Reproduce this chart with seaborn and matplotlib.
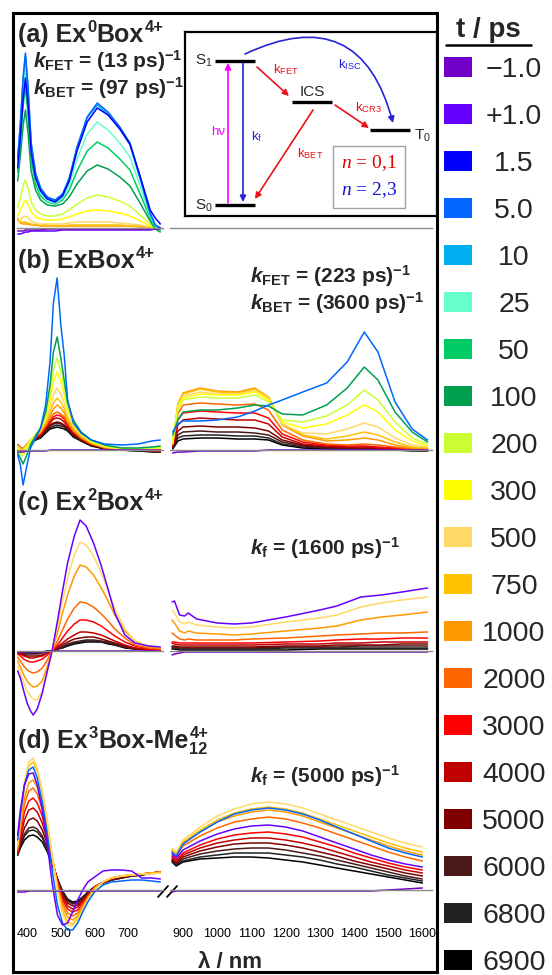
import numpy as np
import pandas as pd
import matplotlib
matplotlib.use('Agg')
import matplotlib.pyplot as plt
from matplotlib.patches import Rectangle
from matplotlib.lines import Line2D
import seaborn as sns

sns.set_style('white')
plt.rcParams['font.family'] = ['Liberation Sans', 'DejaVu Sans']
plt.rcParams.update({
    'mathtext.fontset': 'custom',
    'mathtext.rm': 'Liberation Sans',
    'mathtext.bf': 'Liberation Sans:bold',
    'mathtext.it': 'Liberation Serif:italic',
    'mathtext.sf': 'Liberation Sans',
    'axes.unicode_minus': True,
})
try:
    plt.rcParams['mathtext.bfit'] = 'Liberation Sans:italic:bold'
except KeyError:
    pass

# ---------------- legend / time delays ----------------
T_KEYS = ['-1.0', '+1.0', '1.5', '5.0', '10', '25', '50', '100', '200', '300',
          '500', '750', '1000', '2000', '3000', '4000', '5000', '6000', '6800', '6900']
T_LABELS = ['\u22121.0', '+1.0', '1.5', '5.0', '10', '25', '50', '100', '200', '300',
            '500', '750', '1000', '2000', '3000', '4000', '5000', '6000', '6800', '6900']
T_COLORS = ['#7000C8', '#6600FF', '#0000FF', '#0066FF', '#00B0F0', '#66FFCC', '#00CC66',
            '#00A050', '#CCFF33', '#FFFF00', '#FFD966', '#FFC000', '#FF9900', '#FF6600',
            '#FF0000', '#C00000', '#800000', '#4A1A1A', '#222222', '#000000']
PAL = dict(zip(T_KEYS, T_COLORS))

# ---------------- axis ticks ----------------
L_TICKS = [400, 450, 500, 550, 600, 650, 700, 750, 800]
L_TICKLABELS = ['400', '', '500', '', '600', '', '700', '', '']
R_TICKS = [900, 950, 1000, 1050, 1100, 1150, 1200, 1250, 1300, 1350, 1400, 1450, 1500, 1550, 1600]
R_TICKLABELS = ['900', '', '1000', '', '1100', '', '1200', '', '1300', '', '1400', '', '1500', '', '1600']

# ---------------- panel (a) Ex0Box4+ ----------------
A_L_WL = [372, 380, 388, 395, 403, 412, 425, 440, 460, 483, 505, 525, 548, 578, 608, 640, 675, 705, 735, 765, 780, 795]
A_L = {
    '-1.0': [-3, -3, -3, -2, -2, -2, -2, -2, -1, -1, -1, -1, -1, -1, -1, -1, -1, -1, -1, -1, -1, -1],
    '+1.0': [-6, -6, -5, -4, -4, -3, -3, -3, -3, -3, -2, -2, -2, -2, -2, -2, -2, -2, -2, -2, -1, 0],
    '1.5': [60, 90, 128, 150, 122, 75, 50, 37, 29, 26, 32, 47, 77, 106, 120, 113, 99, 84, 52, 18, 10, 4],
    '5.0': [70, 105, 150, 175, 140, 85, 55, 40, 31, 28, 34, 50, 81, 111, 125, 116, 101, 85, 51, 15, 3, 0],
    '10': [68, 103, 148, 172, 138, 84, 54, 39, 30, 27, 33, 49, 80, 110, 123, 114, 99, 83, 49, 14, 3, 0],
    '25': [62, 95, 136, 158, 125, 76, 49, 35, 27, 25, 30, 43, 69, 94, 106, 98, 85, 71, 42, 12, 2, -2],
    '50': [56, 85, 122, 141, 112, 68, 44, 32, 26, 24, 28, 38, 57, 77, 86, 80, 69, 58, 34, 10, 0, -3],
    '100': [47, 72, 102, 118, 94, 57, 38, 28, 23, 22, 24, 31, 44, 57, 63, 59, 51, 42, 25, 7, -1, -4],
    '200': [20, 30, 42, 48, 40, 26, 18, 14, 12, 12, 14, 18, 24, 30, 33, 31, 27, 22, 13, 4, 0, -2],
    '300': [12, 18, 24, 28, 23, 16, 11, 9, 8, 8, 9, 11, 14, 17, 18, 17, 15, 12, 7, 2, 0, -1],
    '500': [6, 8, 11, 12, 10, 7, 5, 4, 4, 4, 4, 5, 6, 6, 6, 6, 5, 4, 3, 1, 0, 0],
    '750': [10, 6, 6, 6, 5, 4, 3, 3, 3, 2, 2, 3, 3, 3, 3, 3, 3, 2, 2, 1, 0, 0],
    '1000': [8, 5, 4, 4, 4, 3, 3, 2, 2, 2, 2, 2, 2, 2, 2, 2, 2, 2, 1, 1, 0, 0],
}

# ---------------- panel (b) ExBox4+ ----------------
B_L_WL = [372, 380, 388, 398, 410, 425, 440, 455, 468, 478, 489, 500, 510, 520, 537, 560, 590, 630, 680, 730, 770, 795]
B_L = {
    '-1.0': [-2, -2, -2, -1, -1, -1, -1, -1, 0, 0, 0, 0, 0, 0, 0, 0, 0, 0, 0, 0, 0, 0],
    '5.0': [-5, -15, -35, -18, 2, 12, 22, 45, 88, 147, 172, 125, 95, 50, 27, 17, 10, 6, 5, 6, 9, 10],
    '100': [-3, -8, -14, -6, 5, 14, 22, 38, 65, 98, 113, 92, 70, 48, 30, 18, 10, 5, 2, 2, 3, 4],
    '200': [0, -4, -6, 0, 8, 15, 22, 35, 56, 80, 92, 78, 62, 44, 28, 17, 9, 4, 2, 1, 2, 3],
    '300': [2, -2, -3, 3, 9, 15, 21, 32, 50, 68, 78, 68, 55, 40, 26, 16, 8, 4, 1, 1, 2, 2],
    '500': [3, 0, -1, 4, 10, 15, 20, 30, 43, 55, 62, 56, 47, 35, 24, 15, 8, 3, 1, 0, 1, 2],
    '750': [4, 1, 0, 5, 10, 15, 19, 28, 38, 47, 52, 48, 41, 32, 22, 14, 7, 3, 1, 0, 1, 1],
    '1000': [5, 2, 1, 5, 10, 14, 18, 26, 34, 41, 45, 42, 37, 29, 20, 13, 7, 3, 1, 0, 0, 1],
    '2000': [5, 2, 1, 5, 9, 13, 17, 24, 31, 36, 38, 36, 33, 27, 19, 12, 6, 2, 1, 0, 0, 0],
    '3000': [5, 2, 1, 5, 9, 13, 16, 23, 29, 33, 35, 34, 31, 25, 18, 12, 6, 2, 1, 0, 0, -1],
    '4000': [5, 2, 1, 5, 9, 12, 15, 22, 27, 31, 32, 31, 28, 24, 17, 11, 6, 2, 0, 0, -1, -1],
    '5000': [5, 2, 1, 4, 8, 11, 14, 20, 25, 27, 28, 27, 25, 22, 16, 10, 5, 2, 0, 0, -1, -1],
    '6000': [5, 2, 1, 4, 8, 11, 14, 19, 24, 26, 27, 26, 24, 21, 15, 10, 5, 2, 0, 0, -1, -2],
    '6800': [5, 2, 1, 4, 8, 10, 13, 18, 22, 24, 25, 24, 23, 20, 14, 9, 5, 2, 0, -1, -1, -2],
    '6900': [5, 2, 1, 4, 7, 10, 12, 17, 21, 22, 23, 22, 21, 19, 13, 9, 4, 1, 0, -1, -2, -2],
}
B_R_WL = [870, 885, 900, 950, 1000, 1060, 1110, 1150, 1190, 1250, 1320, 1380, 1430, 1470, 1520, 1570, 1615]
B_R = {
    '-1.0': [-3, -2, -2, -1, -1, -1, -1, 0, 0, 0, 0, 0, 0, 0, 0, 0, 0],
    '5.0': [18, 26, 29, 29, 30, 33, 39, 45, 50, 58, 67, 88, 118, 98, 48, 21, 10],
    '100': [15, 30, 38, 40, 40, 42, 45, 44, 36, 35, 45, 62, 83, 70, 38, 18, 8],
    '200': [10, 40, 50, 53, 52, 52, 55, 48, 30, 28, 34, 45, 60, 50, 28, 12, 6],
    '300': [8, 42, 52, 56, 55, 55, 58, 50, 28, 22, 26, 35, 45, 38, 20, 9, 4],
    '500': [7, 44, 54, 58, 56, 56, 59, 51, 26, 17, 16, 21, 27, 23, 12, 5, 3],
    '750': [6, 45, 56, 61, 58, 57, 61, 53, 26, 15, 11, 14, 18, 15, 8, 3, 2],
    '1000': [6, 46, 57, 62, 59, 58, 62, 53, 25, 14, 9, 10, 12, 10, 5, 2, 1],
    '2000': [6, 36, 45, 47, 46, 45, 46, 40, 20, 10, 6, 5, 6, 5, 3, 1, 1],
    '3000': [5, 30, 37, 39, 38, 37, 37, 32, 16, 8, 5, 4, 4, 3, 2, 1, 0],
    '4000': [4, 25, 30, 32, 31, 30, 30, 26, 13, 6, 4, 3, 3, 2, 1, 1, 0],
    '5000': [3, 19, 23, 24, 23, 23, 22, 19, 10, 5, 3, 2, 2, 1, 1, 0, 0],
    '6000': [2, 15, 18, 19, 18, 18, 17, 15, 8, 4, 2, 2, 1, 1, 0, 0, 0],
    '6800': [2, 12, 14, 15, 15, 14, 14, 12, 6, 3, 2, 1, 1, 0, 0, 0, -1],
    '6900': [1, 9, 11, 12, 12, 11, 11, 10, 5, 2, 1, 1, 0, 0, 0, -1, -1],
}

# ---------------- panel (c) Ex2Box4+ ----------------
C_L_WL = [372, 380, 390, 400, 410, 418, 430, 445, 460, 474, 490, 505, 520, 540, 557, 575, 597, 620, 640, 660, 690, 720, 760, 795]
C_L = {
    '-1.0': [-1, -1, -1, -1, -1, -1, -1, -1, -1, 0, 0, 0, 0, 0, 0, 0, 0, 0, 0, 0, 0, 0, 0, 0],
    '+1.0': [-20, -27, -40, -52, -60, -64, -58, -42, -20, 0, 30, 60, 88, 115, 131, 125, 108, 85, 62, 38, 16, 8, 5, 4],
    '500': [-15, -22, -32, -40, -45, -48, -49, -40, -20, 0, 25, 50, 73, 96, 109, 106, 95, 78, 60, 42, 22, 10, 5, 4],
    '1000': [-10, -16, -24, -30, -34, -36, -35, -30, -15, 0, 18, 38, 56, 75, 86, 84, 76, 63, 50, 36, 20, 10, 4, 3],
    '2000': [-6, -10, -15, -19, -21, -22, -21, -17, -9, 0, 10, 21, 32, 43, 49, 48, 44, 37, 30, 22, 13, 6, 3, 2],
    '3000': [-3, -5, -8, -10, -11, -11, -10, -8, -4, 0, 6, 13, 20, 27, 31, 31, 29, 25, 20, 15, 9, 5, 2, 1],
    '4000': [-2, -3, -5, -6, -7, -7, -6, -5, -2, 0, 4, 8, 12, 16, 19, 19, 18, 16, 13, 10, 6, 3, 1, 1],
    '5000': [-2, -3, -4, -5, -5, -5, -5, -4, -2, 0, 3, 6, 9, 12, 13, 14, 14, 12, 10, 8, 5, 3, 1, 1],
    '6000': [-1, -2, -3, -3, -3, -3, -3, -2, -1, 0, 2, 4, 7, 9, 10, 11, 11, 10, 9, 7, 4, 2, 1, 0],
    '6800': [-1, -1, -2, -2, -2, -2, -2, -1, -1, 0, 2, 4, 6, 8, 9, 10, 10, 9, 8, 6, 4, 2, 1, 0],
    '6900': [-1, -1, -1, -2, -2, -2, -2, -1, 0, 0, 2, 3, 5, 7, 8, 9, 9, 9, 7, 6, 3, 2, 1, 0],
}
C_R_WL = [868, 875, 890, 905, 915, 940, 1000, 1050, 1100, 1200, 1300, 1350, 1420, 1480, 1540, 1615]
C_R = {
    '-1.0': [-4, -3, -2, -1, -1, -1, -1, -1, -1, -1, -1, -1, -1, -1, -1, -1],
    '+1.0': [49, 50, 36, 35, 38, 32, 28, 27, 28, 34, 41, 45, 54, 56, 59, 63],
    '500': [41, 38, 29, 27, 29, 26, 24, 23, 24, 29, 33, 36, 44, 48, 51, 54],
    '1000': [31, 28, 20, 18, 20, 18, 17, 16, 17, 20, 23, 25, 31, 34, 36, 39],
    '2000': [18, 16, 12, 11, 12, 11, 11, 11, 12, 13, 15, 16, 17, 18, 18, 19],
    '3000': [9, 9, 8, 8, 8, 8, 8, 8, 8, 9, 10, 11, 12, 12, 13, 13],
    '4000': [8, 7, 6, 6, 6, 6, 6, 6, 6, 7, 7, 8, 8, 9, 9, 9],
    '5000': [5, 5, 4, 4, 4, 4, 4, 4, 4, 5, 5, 6, 6, 6, 7, 7],
    '6000': [4, 4, 3, 3, 3, 3, 3, 3, 3, 4, 4, 4, 5, 5, 5, 5],
    '6800': [3, 3, 2, 2, 2, 2, 2, 2, 2, 3, 3, 3, 3, 3, 3, 3],
    '6900': [2, 2, 1, 1, 1, 1, 1, 1, 1, 1, 2, 2, 2, 2, 2, 2],
}

# ---------------- panel (d) Ex3Box-Me12 4+ ----------------
D_L_WL = [372, 380, 392, 405, 418, 430, 445, 460, 475, 490, 505, 520, 535, 550, 565, 580, 600, 625, 650, 680, 710, 740, 770, 795]
D_L = {
    '-1.0': [-2, -2, -2, -1, -1, -1, -1, -1, -1, -1, -1, -1, -1, -1, -1, -1, -1, -1, -1, -1, -1, -1, -1, -1],
    '+1.0': [55, 80, 105, 116, 117, 105, 80, 45, 5, -25, -35, -33, -22, -10, 0, 8, 13, 19, 20, 20, 19, 12, 12, 11],
    '5.0': [50, 75, 105, 120, 123, 112, 88, 55, 18, -15, -33, -40, -40, -33, -22, -12, -2, 5, 8, 9, 10, 10, 9, 8],
    '500': [45, 72, 108, 128, 132, 122, 100, 68, 32, 0, -24, -35, -36, -30, -20, -10, 0, 8, 12, 14, 15, 16, 16, 17],
    '750': [45, 70, 104, 124, 128, 119, 98, 68, 33, 2, -21, -32, -34, -28, -19, -9, 1, 8, 12, 14, 15, 16, 17, 17],
    '1000': [42, 64, 92, 107, 110, 103, 86, 61, 31, 4, -17, -27, -30, -26, -17, -8, 2, 8, 12, 14, 15, 16, 17, 18],
    '2000': [40, 60, 86, 99, 102, 96, 81, 58, 31, 6, -13, -23, -26, -23, -15, -7, 2, 8, 12, 14, 15, 16, 17, 18],
    '3000': [38, 56, 78, 89, 92, 87, 74, 54, 30, 8, -10, -19, -22, -20, -13, -6, 3, 8, 12, 14, 15, 16, 17, 18],
    '4000': [37, 52, 70, 80, 82, 78, 67, 50, 29, 9, -7, -16, -19, -17, -11, -5, 3, 8, 11, 13, 15, 16, 17, 18],
    '5000': [36, 48, 62, 70, 72, 69, 60, 46, 28, 10, -5, -13, -16, -15, -10, -4, 3, 8, 11, 13, 15, 16, 17, 18],
    '6000': [35, 45, 56, 62, 63, 61, 54, 42, 27, 11, -3, -11, -14, -13, -8, -3, 3, 7, 10, 12, 14, 15, 17, 18],
    '6800': [35, 44, 54, 59, 60, 58, 52, 41, 26, 11, -2, -10, -13, -12, -8, -3, 3, 7, 10, 12, 14, 15, 17, 18],
    '6900': [35, 42, 50, 54, 55, 53, 48, 38, 25, 11, -1, -9, -12, -11, -7, -2, 3, 7, 10, 12, 14, 15, 17, 18],
}
D_R_WL = [868, 880, 900, 950, 1000, 1050, 1100, 1150, 1200, 1250, 1300, 1350, 1400, 1450, 1500, 1550, 1600]
D_R = {
    '-1.0': [-2, -1, -1, -1, -1, -1, -1, -1, -1, -1, -1, -1, -1, -1, 0, 1, 2],
    '+1.0': [36, 32, 40, 49, 56, 61, 64, 65, 63, 59, 53, 47, 41, 35, 30, 26, 23],
    '5.0': [38, 34, 46, 58, 68, 76, 80, 82, 80, 76, 70, 63, 56, 49, 42, 37, 33],
    '500': [42, 38, 50, 63, 74, 81, 86, 88, 86, 82, 76, 70, 64, 58, 52, 47, 43],
    '750': [40, 36, 48, 60, 70, 77, 81, 83, 81, 77, 71, 65, 59, 53, 47, 42, 38],
    '1000': [40, 36, 47, 58, 68, 74, 78, 80, 78, 74, 68, 62, 56, 50, 44, 39, 35],
    '2000': [38, 34, 44, 54, 62, 68, 71, 73, 71, 67, 62, 56, 50, 44, 38, 33, 29],
    '3000': [34, 30, 37, 45, 51, 55, 57, 58, 56, 53, 48, 43, 37, 32, 27, 23, 20],
    '4000': [33, 29, 35, 42, 47, 50, 52, 52, 50, 47, 43, 38, 33, 28, 24, 20, 17],
    '5000': [31, 27, 33, 39, 43, 46, 47, 47, 45, 42, 38, 34, 29, 25, 21, 17, 14],
    '6000': [30, 26, 31, 36, 39, 41, 42, 42, 40, 37, 34, 30, 26, 22, 18, 14, 11],
    '6800': [29, 25, 29, 33, 35, 37, 37, 37, 35, 33, 30, 26, 23, 19, 15, 12, 9],
    '6900': [28, 24, 28, 31, 32, 33, 33, 32, 30, 28, 25, 22, 19, 16, 13, 10, 7],
}

# ---------------- layout helpers (pixel coordinates) ----------------
W, H = 552, 975
fig = plt.figure(figsize=(W / 100, H / 100), dpi=100)
fig.patch.set_facecolor('white')
PXPT = 100 / 72


def px_rect(x0, y0, x1, y1):
    return [x0 / W, 1 - y1 / H, (x1 - x0) / W, (y1 - y0) / H]


def fx(x):
    return x / W


def fy(y):
    return 1 - y / H


def draw_region(ax, wl, curves):
    order = [k for k in T_KEYS[::-1] if k in curves]
    rows = []
    for k in order:
        for x, y in zip(wl, curves[k]):
            rows.append((x, y, k))
    df = pd.DataFrame(rows, columns=['wl', 'dA', 't'])
    sns.lineplot(data=df, x='wl', y='dA', hue='t', hue_order=order, palette=PAL,
                 estimator=None, sort=False, legend=False, linewidth=1.1, ax=ax)


def setup_axis(ax, xlim, ylim, ticks, labels=None):
    ax.set_xlim(*xlim)
    ax.set_ylim(*ylim)
    ax.patch.set_alpha(0)
    for s in ['top', 'right', 'left']:
        ax.spines[s].set_visible(False)
    ax.spines['bottom'].set_position(('data', 0))
    ax.spines['bottom'].set_color('#8a8a8a')
    ax.spines['bottom'].set_linewidth(1.0)
    ax.set_yticks([])
    ax.set_xticks(ticks)
    ax.tick_params(axis='x', direction='out', length=2.5, width=0.8, color='#8a8a8a')
    if labels is not None:
        ax.set_xticklabels(labels, fontsize=9)
        ax.tick_params(axis='x', pad=25, labelcolor='black')
    else:
        ax.tick_params(axis='x', labelbottom=False)
    ax.set_xlabel('')
    ax.set_ylabel('')


LEFT_X = (370, 803)
RIGHT_X = (862, 1628)
LEFT_PX = (17, 163)
RIGHT_PX = (170, 432)

# panel: (top px, bottom px, zero px)
PANEL_GEOM = {'a': (40, 245, 228), 'b': (270, 490, 450), 'c': (515, 720, 651), 'd': (745, 935, 890)}
PANEL_DATA = {'a': (A_L_WL, A_L, None, None), 'b': (B_L_WL, B_L, B_R_WL, B_R),
              'c': (C_L_WL, C_L, C_R_WL, C_R), 'd': (D_L_WL, D_L, D_R_WL, D_R)}

for key in ['a', 'b', 'c', 'd']:
    top, bot, zero = PANEL_GEOM[key]
    ylim = (zero - bot, zero - top)
    lwl, lcur, rwl, rcur = PANEL_DATA[key]
    axl = fig.add_axes(px_rect(LEFT_PX[0], top, LEFT_PX[1], bot), zorder=2)
    draw_region(axl, lwl, lcur)
    axr = fig.add_axes(px_rect(RIGHT_PX[0], top, RIGHT_PX[1], bot), zorder=2)
    if rwl is not None:
        draw_region(axr, rwl, rcur)
    last = key == 'd'
    setup_axis(axl, LEFT_X, ylim, L_TICKS, L_TICKLABELS if last else None)
    setup_axis(axr, RIGHT_X, ylim, R_TICKS, R_TICKLABELS if last else None)

# axis break marks in panel (d)
for x0 in (158, 167):
    fig.add_artist(Line2D([fx(x0), fx(x0 + 10)], [fy(897), fy(886)], color='black', lw=1.3))

# ---------------- inset (energy diagram) ----------------
ax_in = fig.add_axes(px_rect(185, 32, 437, 216), zorder=5)
ax_in.set_xlim(185, 437)
ax_in.set_ylim(216, 32)
ax_in.set_xticks([])
ax_in.set_yticks([])
ax_in.set_facecolor('white')
for s in ax_in.spines.values():
    s.set_linewidth(1.6)
    s.set_color('black')

for (x0, x1, y) in [(215, 255, 61), (215, 255, 205), (292, 332, 102), (370, 410, 130)]:
    ax_in.plot([x0, x1], [y, y], color='black', lw=2.4, solid_capstyle='butt')

ax_in.text(213, 65, r'S$_{1}$', ha='right', va='baseline', fontsize=11)
ax_in.text(213, 210, r'S$_{0}$', ha='right', va='baseline', fontsize=11)
ax_in.text(312, 96, 'ICS', ha='center', va='baseline', fontsize=11)
ax_in.text(414, 140, r'T$_{0}$', ha='left', va='baseline', fontsize=11)

RED, BLUE, MAG = '#E8141A', '#2323D8', '#FF00FF'


def arrow(p0, p1, color, rad=0.0):
    ax_in.annotate('', xy=p1, xytext=p0,
                   arrowprops=dict(arrowstyle='-|>', color=color, lw=1.2, mutation_scale=9,
                                   shrinkA=0, shrinkB=0,
                                   connectionstyle='arc3,rad=%s' % rad))


arrow((228, 203), (228, 63), MAG)
arrow((243, 63), (243, 202), BLUE)
arrow((257, 67), (289, 96), RED)
arrow((335, 105), (369, 128), RED)
arrow((313, 110), (255, 199), RED)
arrow((245, 54), (393, 123), BLUE, rad=-0.6)

ax_in.text(218, 135, 'h\u03bd', color=MAG, ha='center', va='baseline', fontsize=9.5)
ax_in.text(251, 140, r'k$_{\mathregular{f}}$', color=BLUE, ha='left', va='baseline', fontsize=9.5)
ax_in.text(273, 73, r'k$_{\mathregular{FET}}$', color=RED, ha='left', va='baseline', fontsize=9.5)
ax_in.text(355, 111, r'k$_{\mathregular{CR3}}$', color=RED, ha='left', va='baseline', fontsize=9.5)
ax_in.text(297, 157, r'k$_{\mathregular{BET}}$', color=RED, ha='left', va='baseline', fontsize=9.5)
ax_in.text(338, 68, r'k$_{\mathregular{ISC}}$', color=BLUE, ha='left', va='baseline', fontsize=9.5)

ax_in.add_patch(Rectangle((333, 146), 72, 62, fill=True, fc='white', ec='#a0a0a0', lw=1.0))
ax_in.text(369, 163, r'$n$ = 0,1', color='#E00000', ha='center', va='center',
           fontsize=14, family=['Liberation Serif', 'DejaVu Serif'])
ax_in.text(369, 190, r'$n$ = 2,3', color='#1010D8', ha='center', va='center',
           fontsize=14, family=['Liberation Serif', 'DejaVu Serif'])

# ---------------- main frame ----------------
fig.add_artist(Rectangle((fx(13), fy(972)), (437 - 13) / W, (972 - 13) / H,
                         transform=fig.transFigure, fill=False, ec='black', lw=2.2, zorder=10))

# ---------------- panel titles (rich text with super/subscripts) ----------------
renderer = fig.canvas.get_renderer()


def rich_text(x, yb, pieces, size):
    for piece in pieces:
        s, kind = piece[0], piece[1]
        if kind == 'n':
            t = fig.text(fx(x), fy(yb), s, fontsize=size, fontweight='bold',
                         ha='left', va='baseline', zorder=6)
            x += t.get_window_extent(renderer).width
        elif kind == 'sup':
            t = fig.text(fx(x + 1), fy(yb - 0.40 * size * PXPT), s, fontsize=size * 0.66,
                         fontweight='bold', ha='left', va='baseline', zorder=6)
            x += t.get_window_extent(renderer).width + 1
        elif kind == 'subsup':
            t1 = fig.text(fx(x + 1), fy(yb + 0.22 * size * PXPT), s, fontsize=size * 0.66,
                          fontweight='bold', ha='left', va='baseline', zorder=6)
            t2 = fig.text(fx(x + 1), fy(yb - 0.40 * size * PXPT), piece[2], fontsize=size * 0.66,
                          fontweight='bold', ha='left', va='baseline', zorder=6)
            x += max(t1.get_window_extent(renderer).width, t2.get_window_extent(renderer).width) + 1


TITLE_A = [('(a) Ex', 'n'), ('0', 'sup'), ('Box', 'n'), ('4+', 'sup')]
TITLE_B = [('(b) ExBox', 'n'), ('4+', 'sup')]
TITLE_C = [('(c) Ex', 'n'), ('2', 'sup'), ('Box', 'n'), ('4+', 'sup')]
TITLE_D = [('(d) Ex', 'n'), ('3', 'sup'), ('Box-Me', 'n'), ('12', 'subsup', '4+')]
for yb, pieces in [(42, TITLE_A), (268, TITLE_B), (510, TITLE_C), (748, TITLE_D)]:
    rich_text(18, yb, pieces, 18)

RATES = [(33, 68, r'$\mathbfit{k}_{\mathbf{FET}}$ = (13 ps)$^{\mathbf{-1}}$'),
         (33, 95, r'$\mathbfit{k}_{\mathbf{BET}}$ = (97 ps)$^{\mathbf{-1}}$'),
         (250, 283, r'$\mathbfit{k}_{\mathbf{FET}}$ = (223 ps)$^{\mathbf{-1}}$'),
         (250, 310, r'$\mathbfit{k}_{\mathbf{BET}}$ = (3600 ps)$^{\mathbf{-1}}$'),
         (250, 555, r'$\mathbfit{k}_{\mathbf{f}}$ = (1600 ps)$^{\mathbf{-1}}$'),
         (250, 783, r'$\mathbfit{k}_{\mathbf{f}}$ = (5000 ps)$^{\mathbf{-1}}$')]
for x, yb, s in RATES:
    fig.text(fx(x), fy(yb), s, fontsize=15, fontweight='bold', ha='left', va='baseline', zorder=6)

fig.text(fx(230), fy(968), '\u03bb / nm', fontsize=16, fontweight='bold', ha='center', va='baseline')

# ---------------- legend ----------------
fig.text(fx(488), fy(37), 't / ps', fontsize=20, fontweight='bold', ha='center', va='baseline')
fig.add_artist(Line2D([fx(446), fx(531)], [fy(45), fy(45)], color='black', lw=1.8))
for i, (lab, col) in enumerate(zip(T_LABELS, T_COLORS)):
    yc = 67 + 47 * i
    fig.add_artist(Rectangle((fx(444), fy(yc + 10)), 28 / W, 20 / H, transform=fig.transFigure,
                             fc=col, ec='none'))
    fig.text(fx(514), fy(yc + 10), lab, fontsize=20.5, ha='center', va='baseline')

fig.savefig('out.png', dpi=100)
